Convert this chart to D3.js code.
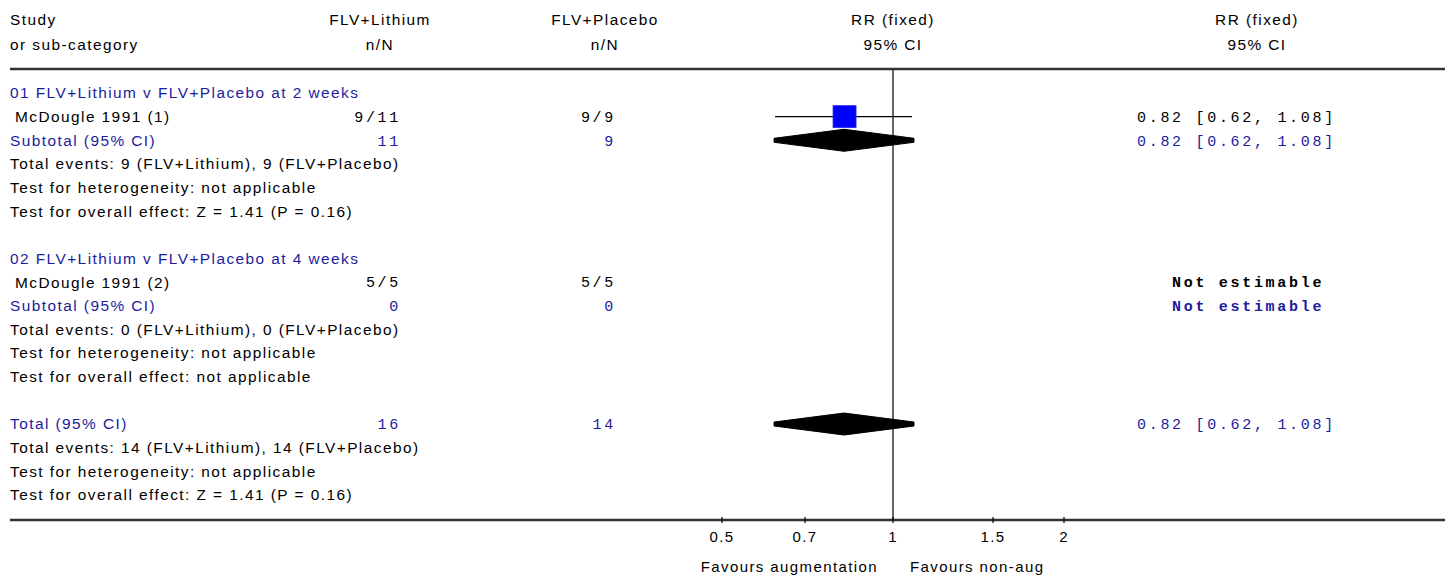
<!DOCTYPE html>
<html><head><meta charset="utf-8">
<script src="https://cdn.jsdelivr.net/npm/d3@7"></script>
<style>
html,body{margin:0;padding:0;background:#fff;}
svg text{font-family:"Liberation Sans",Arial,sans-serif;font-size:15.4px;letter-spacing:1.45px;}
svg text.ax{font-size:15px;letter-spacing:1.4px;}
svg text.mono{font-family:"Liberation Mono","Courier New",monospace;font-size:15px;letter-spacing:2.7px;}
</style></head>
<body>
<svg id="chart" width="1453" height="577"></svg>
<script>
// ---- data ----
const headerCols = [["Study","or sub-category"],["FLV+Lithium","n/N"],["FLV+Placebo","n/N"],["RR (fixed)","95% CI"],["RR (fixed)","95% CI"]];
const groupTitles = ["01 FLV+Lithium v FLV+Placebo at 2 weeks","02 FLV+Lithium v FLV+Placebo at 4 weeks"];
const studyNames = ["McDougle 1991 (1)","McDougle 1991 (2)"];
const studyLithium = ["9/11","5/5"];
const studyPlacebo = ["9/9","5/5"];
const studyRR = [0.82, null];
const studyLo = [0.62, null];
const studyHi = [1.08, null];
const subLithium = ["11","0"];
const subPlacebo = ["9","0"];
const subRR = [0.82, null];
const subLo = [0.62, null];
const subHi = [1.08, null];
const subEvents = ["Total events: 9 (FLV+Lithium), 9 (FLV+Placebo)","Total events: 0 (FLV+Lithium), 0 (FLV+Placebo)"];
const subHet = ["Test for heterogeneity: not applicable","Test for heterogeneity: not applicable"];
const subEffect = ["Test for overall effect: Z = 1.41 (P = 0.16)","Test for overall effect: not applicable"];
const totalLithium = "16";
const totalPlacebo = "14";
const totalRR = 0.82, totalLo = 0.62, totalHi = 1.08;
const totalLines = ["Total events: 14 (FLV+Lithium), 14 (FLV+Placebo)","Test for heterogeneity: not applicable","Test for overall effect: Z = 1.41 (P = 0.16)"];
const tickValues = [0.5, 0.7, 1, 1.5, 2];
const tickLabels = ["0.5","0.7","1","1.5","2"];
const favourLeft = "Favours augmentation";
const favourRight = "Favours non-aug";

// ---- layout ----
const BLUE = "#1c1c9c";
const svg = d3.select("#chart");
const x = d3.scaleLog().domain([0.5, 2]).range([722, 1064]);
const y = d3.scaleLinear().domain([0, 18]).range([93, 518.6]);
const colX = {study:10, lith:401, plac:616, ciStart:1137, neStart:1172};
const headCenters = [null, 380, 605, x(1), 1257];
const fmt = v => v.toFixed(2);
const ciText = (r,l,h) => r==null ? "Not estimable" : `${fmt(r)} [${fmt(l)}, ${fmt(h)}]`;

// build rows
const rows = [];
let idx = 0;
groupTitles.forEach((g,i) => {
  rows.push({i:idx++, type:"title", label:g});
  rows.push({i:idx++, type:"study", label:studyNames[i], a:studyLithium[i], b:studyPlacebo[i], rr:studyRR[i], lo:studyLo[i], hi:studyHi[i]});
  rows.push({i:idx++, type:"sub", label:"Subtotal (95% CI)", a:subLithium[i], b:subPlacebo[i], rr:subRR[i], lo:subLo[i], hi:subHi[i]});
  rows.push({i:idx++, type:"text", label:subEvents[i]});
  rows.push({i:idx++, type:"text", label:subHet[i]});
  rows.push({i:idx++, type:"text", label:subEffect[i]});
  idx++;
});
rows.push({i:idx++, type:"sub", label:"Total (95% CI)", a:totalLithium, b:totalPlacebo, rr:totalRR, lo:totalLo, hi:totalHi});
totalLines.forEach(t => rows.push({i:idx++, type:"text", label:t}));

// header
headerCols.forEach((h,ci) => {
  h.forEach((t,li) => {
    svg.append("text")
      .attr("x", ci===0 ? 10 : headCenters[ci])
      .attr("y", 20 + li*25)
      .attr("dy","0.35em")
      .attr("text-anchor", ci===0 ? "start" : "middle")
      .attr("fill","#000")
      .text(t);
  });
});

// horizontal rules
svg.append("line").attr("x1",10).attr("x2",1445).attr("y1",69).attr("y2",69).attr("stroke","#333").attr("stroke-width",2.5);
svg.append("line").attr("x1",10).attr("x2",1445).attr("y1",y(18)+1.4).attr("y2",y(18)+1.4).attr("stroke","#333").attr("stroke-width",2.5);

// line of no effect
svg.append("line").attr("x1",x(1)).attr("x2",x(1)).attr("y1",70).attr("y2",y(18)+1).attr("stroke","#000").attr("stroke-width",1.2);

// rows
rows.forEach(r => {
  const yy = y(r.i);
  const col = (r.type==="title"||r.type==="sub") ? BLUE : "#000";
  svg.append("text").attr("x", r.type==="study" ? 15 : 10).attr("y", yy).attr("dy","0.35em")
    .attr("fill", col).text(r.label);
  if (r.type==="study" || r.type==="sub") {
    svg.append("text").attr("class","mono").attr("x", colX.lith).attr("y", yy).attr("dy","0.35em")
      .attr("text-anchor","end").attr("fill", col).text(r.a);
    svg.append("text").attr("class","mono").attr("x", colX.plac).attr("y", yy).attr("dy","0.35em")
      .attr("text-anchor","end").attr("fill", col).text(r.b);
    svg.append("text").attr("class","mono").attr("x", r.rr==null ? colX.neStart : colX.ciStart).attr("y", yy).attr("dy","0.35em")
      .attr("fill", col).style("font-weight", r.rr==null ? "bold" : null).text(ciText(r.rr, r.lo, r.hi));
    if (r.rr != null) {
      if (r.type==="study") {
        svg.append("line").attr("x1",x(r.lo)).attr("x2",x(r.hi)).attr("y1",yy).attr("y2",yy).attr("stroke","#000").attr("stroke-width",1.3);
        const s = 22;
        svg.append("rect").attr("x",x(r.rr)-s/2).attr("y",yy-s/2).attr("width",s+1).attr("height",s)
          .attr("fill","#0000ff").attr("stroke","#2a2aff").attr("stroke-width",0.8);
      } else {
        const h = 11, t = 2;
        const x0 = x(r.lo)-1, x1 = x(r.hi)+2, xc = x(r.rr);
        svg.append("path")
          .attr("d", `M${x0},${yy-t} L${xc},${yy-h} L${x1},${yy-t} L${x1},${yy+t} L${xc},${yy+h} L${x0},${yy+t} Z`)
          .attr("fill","#000").attr("stroke","#000").attr("stroke-width",1).attr("stroke-linejoin","miter");
      }
    }
  }
});

// axis
const axY = y(18)+1.4;
const axis = svg.append("g");
axis.selectAll("line.tick").data(tickValues).join("line").attr("class","tick")
  .attr("x1",d=>x(d)).attr("x2",d=>x(d)).attr("y1",axY-3).attr("y2",axY+3).attr("stroke","#000").attr("stroke-width",1.2);
axis.selectAll("text.tl").data(tickValues).join("text").attr("class","tl ax")
  .attr("x",d=>x(d)).attr("y",axY+17).attr("dy","0.35em").attr("text-anchor","middle").attr("fill","#000")
  .text((d,i)=>tickLabels[i]);
svg.append("text").attr("class","ax").attr("x",x(1)-15).attr("y",axY+47).attr("dy","0.35em").attr("text-anchor","end").attr("fill","#000").text(favourLeft);
svg.append("text").attr("class","ax").attr("x",x(1)+17).attr("y",axY+47).attr("dy","0.35em").attr("text-anchor","start").attr("fill","#000").text(favourRight);
</script>
</body></html>
